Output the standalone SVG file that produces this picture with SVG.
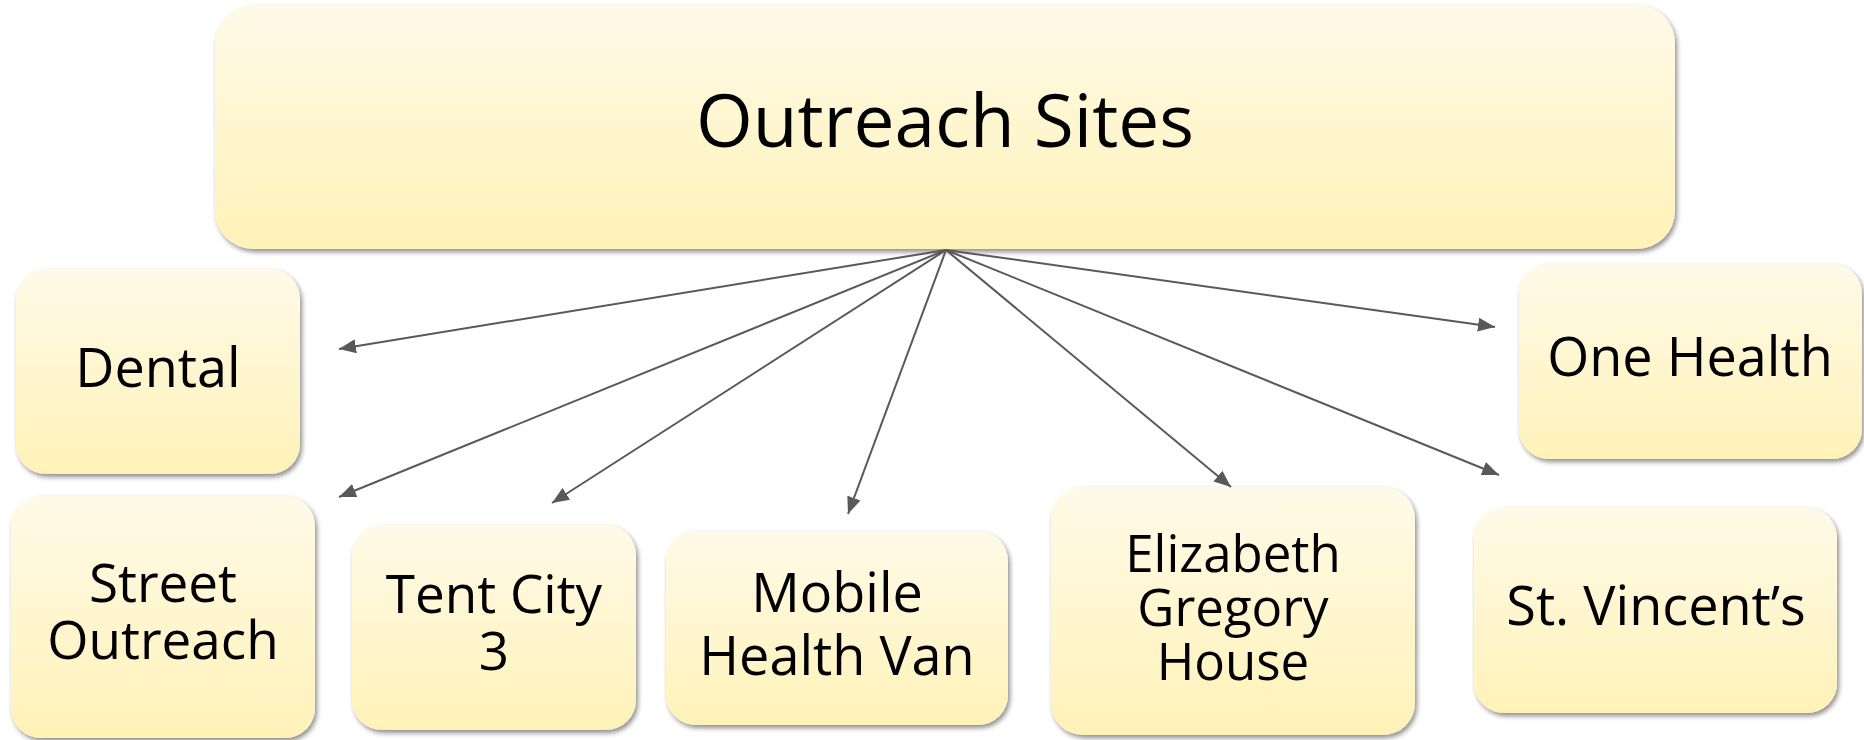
<svg xmlns="http://www.w3.org/2000/svg" width="1864" height="740" viewBox="0 0 1864 740">
  <defs>
    <linearGradient id="fill" x1="0" y1="0" x2="0" y2="1">
      <stop offset="0" stop-color="#FFFAE8"/>
      <stop offset="1" stop-color="#FFF2B8"/>
    </linearGradient>
    <filter id="shadow" x="-10%" y="-10%" width="120%" height="125%">
      <feGaussianBlur in="SourceAlpha" stdDeviation="2.5"/>
      <feOffset dx="2" dy="3" result="b"/>
      <feComponentTransfer><feFuncA type="linear" slope="0.45"/></feComponentTransfer>
      <feMerge><feMergeNode/><feMergeNode in="SourceGraphic"/></feMerge>
    </filter>
    <marker id="arrow" markerUnits="userSpaceOnUse" markerWidth="18" markerHeight="14" refX="17" refY="7" orient="auto">
      <path d="M0,0 L17,7 L0,14 Z" fill="#595959"/>
    </marker>
    <style>
      .box { fill: url(#fill); filter: url(#shadow); }
      .lbl { font-family: "Open Sans", "Noto Sans", sans-serif; fill: #000; text-anchor: middle; }
      .conn line { stroke: #595959; stroke-width: 2; marker-end: url(#arrow); }
    </style>
  </defs>
  <rect width="1864" height="740" fill="#FFFFFF"/>

  <g id="outreach-sites">
    <rect class="box" x="215" y="5" width="1460" height="244" rx="38"/>
    <text class="lbl" x="945" y="147" font-size="73">Outreach Sites</text>
  </g>

  <g id="dental">
    <rect class="box" x="16" y="269" width="284" height="205" rx="30"/>
    <text class="lbl" x="158" y="387" font-size="54">Dental</text>
  </g>

  <g id="street-outreach">
    <rect class="box" x="11" y="496" width="304" height="242" rx="30"/>
    <text class="lbl" x="163" y="602" font-size="53">Street</text>
    <text class="lbl" x="163" y="659" font-size="53">Outreach</text>
  </g>

  <g id="tent-city-3">
    <rect class="box" x="352" y="525" width="284" height="205" rx="30"/>
    <text class="lbl" x="494" y="613" font-size="53">Tent City</text>
    <text class="lbl" x="494" y="670" font-size="53">3</text>
  </g>

  <g id="mobile-health-van">
    <rect class="box" x="666" y="531" width="342" height="194" rx="30"/>
    <text class="lbl" x="837" y="612" font-size="54">Mobile</text>
    <text class="lbl" x="837" y="675" font-size="54">Health Van</text>
  </g>

  <g id="elizabeth-gregory-house">
    <rect class="box" x="1051" y="487" width="364" height="248" rx="32"/>
    <text class="lbl" x="1233" y="572" font-size="51">Elizabeth</text>
    <text class="lbl" x="1233" y="626" font-size="51">Gregory</text>
    <text class="lbl" x="1233" y="680" font-size="51">House</text>
  </g>

  <g id="st-vincents">
    <rect class="box" x="1474" y="508" width="363" height="205" rx="30"/>
    <text class="lbl" x="1656" y="625" font-size="54">St. Vincent’s</text>
  </g>

  <g id="one-health">
    <rect class="box" x="1519" y="264" width="343" height="195" rx="30"/>
    <text class="lbl" x="1690" y="376" font-size="54">One Health</text>
  </g>

  <g id="connectors" class="conn">
    <line x1="946" y1="250" x2="339" y2="349"/>
    <line x1="946" y1="250" x2="339" y2="497"/>
    <line x1="946" y1="250" x2="552" y2="503"/>
    <line x1="946" y1="250" x2="848" y2="514"/>
    <line x1="946" y1="250" x2="1231" y2="487"/>
    <line x1="946" y1="250" x2="1499" y2="475"/>
    <line x1="946" y1="250" x2="1495" y2="327"/>
  </g>
</svg>
